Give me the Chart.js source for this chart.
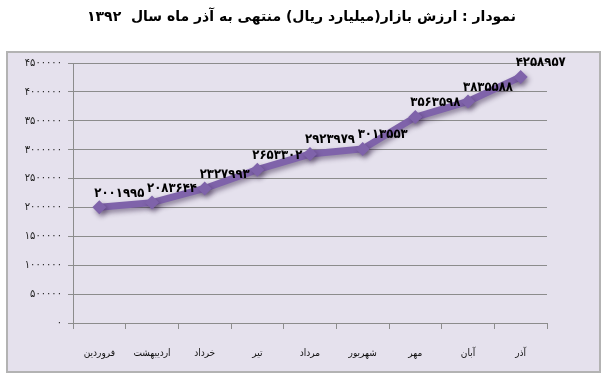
<!DOCTYPE html>
<html>
<head>
<meta charset="utf-8">
<script src="https://cdn.jsdelivr.net/npm/chart.js@4/dist/chart.umd.min.js"></script>
<style>
html,body{margin:0;padding:0;background:#fff}
#wrap{width:603px;height:383px}
</style>
</head>
<body>
<div id="wrap"><canvas id="chart" dir="rtl" width="603" height="383"></canvas></div>
<script>
// market value chart (billion rial)
const chartTitle = 'نمودار : ارزش بازار(میلیارد ریال) منتهی به آذر ماه سال  ۱۳۹۲';
const months = ['فروردین','اردیبهشت','خرداد','تیر','مرداد','شهریور','مهر','آبان','آذر'];
const marketValue = [2001995, 2083644, 2327993, 2653302, 2923979, 3013553, 3563598, 3835588, 4258957];
const yTicks = [0, 500000, 1000000, 1500000, 2000000, 2500000, 3000000, 3500000, 4000000, 4500000];

const FA_DIGITS = '۰۱۲۳۴۵۶۷۸۹';
function fa(n){
  return String(n).replace(/\d/g, d => FA_DIGITS[d]);
}

// lavender frame behind the plot
const framePlugin = {
  id:'frame',
  beforeDraw(chart){
    const ctx = chart.ctx;
    ctx.save();
    ctx.fillStyle = '#e5e1ed';
    ctx.fillRect(7, 52, 593, 320);
    ctx.strokeStyle = '#b3b3b3';
    ctx.lineWidth = 2;
    ctx.strokeRect(7, 52, 593, 320);
    ctx.restore();
  }
};

// soft shadow on the line + markers
const shadowPlugin = {
  id:'shadow',
  beforeDatasetsDraw(chart){
    const ctx = chart.ctx;
    ctx.save();
    ctx.shadowColor = 'rgba(40,20,60,0.45)';
    ctx.shadowBlur = 5;
    ctx.shadowOffsetX = 2;
    ctx.shadowOffsetY = 3;
  },
  afterDatasetsDraw(chart){
    chart.ctx.restore();
  }
};

// value labels above each point
const labelPlugin = {
  id:'valueLabels',
  afterDatasetsDraw(chart){
    const ctx = chart.ctx;
    const meta = chart.getDatasetMeta(0);
    ctx.save();
    ctx.font = 'bold 13px "DejaVu Sans Condensed", "DejaVu Sans"';
    ctx.fillStyle = '#000';
    ctx.textAlign = 'center';
    ctx.textBaseline = 'middle';
    meta.data.forEach((pt, i) => {
      ctx.fillText(fa(marketValue[i]), pt.x + 20, pt.y - 14);
    });
    ctx.restore();
  }
};

new Chart(document.getElementById('chart'), {
  type:'line',
  data:{
    labels: months,
    datasets:[{
      data: marketValue,
      borderColor:'#7f63aa',
      backgroundColor:'#7f63aa',
      borderWidth:7,
      tension:0,
      pointStyle:'rectRot',
      pointRadius:7,
      pointHoverRadius:7,
      pointBorderWidth:0
    }]
  },
  options:{
    responsive:false,
    animation:false,
    devicePixelRatio:1,
    layout:{ padding:{ left:0, right:0, top:0, bottom:11 } },
    plugins:{
      legend:{ display:false },
      tooltip:{ enabled:false },
      title:{
        display:true,
        text: chartTitle,
        color:'#000',
        font:{ family:'"DejaVu Sans"', size:14, weight:'bold', lineHeight:1.2 },
        padding:{ top:9, bottom:37.2 }
      }
    },
    scales:{
      x:{
        offset:true,
        grid:{ offset:true, drawOnChartArea:false, drawTicks:true, tickLength:6, color:'#8c8c8c' },
        border:{ color:'#8c8c8c' },
        ticks:{ color:'#111', padding:18, maxRotation:0, autoSkip:false,
                font:{ family:'"DejaVu Sans Condensed", "DejaVu Sans"', size:10 } },
        afterFit(scale){ scale.height = 49; }
      },
      y:{
        min:0,
        max:4500000,
        afterBuildTicks(scale){ scale.ticks = yTicks.map(v => ({ value:v })); },
        grid:{ color:'#8c8c8c', tickLength:5 },
        border:{ color:'#8c8c8c' },
        ticks:{ color:'#222', padding:6, callback:(v) => fa(v),
                font:{ family:'"DejaVu Sans Condensed", "DejaVu Sans"', size:11 } },
        afterFit(scale){ scale.width = 73; }
      },
      // spacer on the right so the plot stops where the reference does
      y2:{
        position:'right',
        display:true,
        grid:{ display:false },
        border:{ display:false },
        ticks:{ display:false },
        afterFit(scale){ scale.width = 56; }
      }
    }
  },
  plugins:[framePlugin, shadowPlugin, labelPlugin]
});
</script>
</body>
</html>
